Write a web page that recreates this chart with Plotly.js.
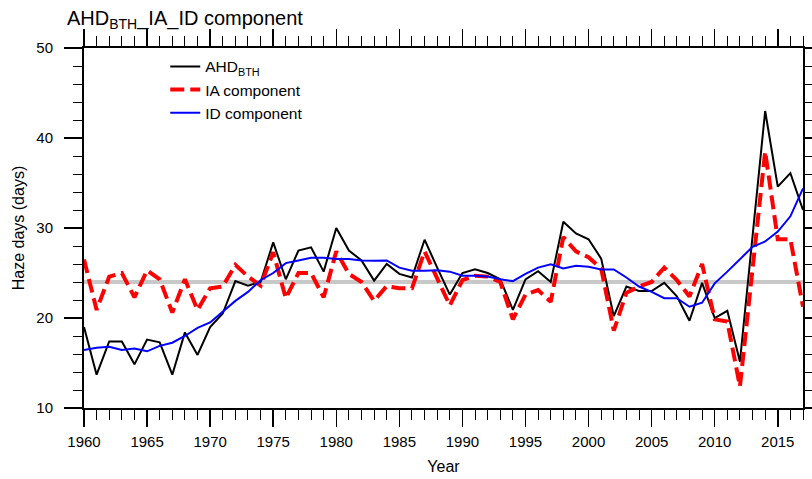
<!DOCTYPE html>
<html>
<head>
<meta charset="utf-8">
<script src="https://cdn.plot.ly/plotly-3.0.1.min.js"></script>
<style>html,body{margin:0;padding:0;background:#fff;}#chart{width:812px;height:479px;}</style>
</head>
<body>
<div id="chart"></div>
<script>
const years = [];
for (let y = 1960; y <= 2017; y++) years.push(y);

const ahdBTH = [19.0, 13.7, 17.4, 17.4, 14.85, 17.6, 17.3, 13.7, 18.4, 15.9,
  19.0, 20.5, 24.1, 23.6, 24.0, 28.4, 24.3, 27.5, 27.85, 25.15,
  30.0, 27.5, 26.4, 24.15, 26.0, 24.9, 24.5, 28.7, 25.6, 22.6,
  25.0, 25.4, 25.0, 24.3, 20.9, 24.3, 25.2, 24.0, 30.7, 29.4,
  28.75, 26.6, 20.2, 23.5, 23.0, 23.0, 23.9, 22.4, 19.7, 23.9,
  20.0, 20.8, 15.15, 29.0, 43.0, 34.6, 36.1, 32.0];

const iaComponent = [26.5, 20.9, 24.6, 25.0, 22.3, 25.3, 24.3, 20.6, 24.3, 20.9,
  23.3, 23.5, 25.9, 24.6, 23.6, 27.3, 22.2, 25.0, 25.0, 22.3,
  27.4, 24.9, 24.0, 21.9, 23.55, 23.3, 23.3, 27.4, 24.4, 21.4,
  24.2, 24.7, 24.6, 24.0, 19.85, 22.6, 23.1, 21.8, 29.0, 27.4,
  26.75, 25.5, 18.6, 22.8, 23.5, 24.0, 25.6, 24.2, 22.4, 26.0,
  19.85, 19.6, 12.4, 25.5, 38.5, 28.75, 28.75, 21.25];

const idComponent = [16.45, 16.7, 16.8, 16.45, 16.6, 16.3, 16.9, 17.25, 18.0, 18.9,
  19.5, 20.7, 21.9, 22.9, 24.2, 25.0, 26.1, 26.4, 26.7, 26.7,
  26.55, 26.55, 26.4, 26.35, 26.4, 25.6, 25.25, 25.25, 25.3, 25.15,
  24.7, 24.7, 24.6, 24.3, 24.1, 24.9, 25.6, 25.97, 25.5, 25.8,
  25.7, 25.4, 25.4, 24.5, 23.5, 22.9, 22.2, 22.2, 21.25, 21.7,
  23.85, 25.15, 26.5, 27.9, 28.5, 29.6, 31.3, 34.4];

const meanLevel = 24;
const seriesNames = ['AHD<sub>BTH</sub>', 'IA component', 'ID component'];

const FONT = 'Liberation Sans, Arial, Helvetica, sans-serif';

const traces = [
  {x: years, y: ahdBTH, name: seriesNames[0], type: 'scatter', mode: 'lines',
   line: {color: '#000000', width: 2}, legendgroup: 'a'},
  {x: years, y: iaComponent, name: seriesNames[1], type: 'scatter', mode: 'lines',
   line: {color: '#ff0000', width: 4, dash: '14px,6px'}, legendgroup: 'b'},
  {x: years, y: idComponent, name: seriesNames[2], type: 'scatter', mode: 'lines',
   line: {color: '#0000ff', width: 2}, legendgroup: 'c'}
];

const layout = {
  width: 812, height: 479,
  margin: {l: 84, r: 9, t: 48, b: 71, pad: 0},
  paper_bgcolor: '#ffffff', plot_bgcolor: '#ffffff',
  font: {family: FONT, color: '#000000', size: 15},
  title: {text: 'AHD<sub>BTH</sub>_IA_ID component', font: {family: FONT, size: 20, color: '#000'},
          xref: 'container', yref: 'container', x: 67/812, xanchor: 'left', y: 1 - 18/479, yanchor: 'middle'},
  showlegend: true,
  legend: {x: 0.113, y: 0.995, xanchor: 'left', yanchor: 'top', bgcolor: 'rgba(0,0,0,0)',
           font: {family: FONT, size: 15.5, color: '#000'}, traceorder: 'grouped', tracegroupgap: 0},
  xaxis: {
    range: [1960, 2017], tick0: 1960, dtick: 5, showgrid: false, zeroline: false,
    showline: true, linecolor: '#000', linewidth: 2, mirror: 'allticks',
    ticks: 'outside', ticklen: 17, tickwidth: 1.5, tickcolor: '#000',
    ticklabelstandoff: 2,
    minor: {dtick: 1, ticks: 'outside', ticklen: 10, tickwidth: 1, tickcolor: '#000', showgrid: false},
    tickfont: {family: FONT, size: 15},
    title: {text: 'Year', font: {family: FONT, size: 16}, standoff: 12}
  },
  yaxis: {
    range: [10, 50], tick0: 10, dtick: 10, showgrid: false, zeroline: false,
    showline: true, linecolor: '#000', linewidth: 2, mirror: 'allticks',
    ticks: 'outside', ticklen: 18, tickwidth: 1.5, tickcolor: '#000',
    ticklabelstandoff: 8,
    minor: {dtick: 2, ticks: 'outside', ticklen: 9, tickwidth: 1, tickcolor: '#000', showgrid: false},
    tickfont: {family: FONT, size: 15},
    title: {text: 'Haze days (days)', font: {family: FONT, size: 16}, standoff: 8}
  },
  shapes: [
    {type: 'line', xref: 'paper', x0: 0, x1: 1, yref: 'y', y0: meanLevel, y1: meanLevel,
     line: {color: '#c8c8c8', width: 4}, layer: 'below'}
  ]
};

Plotly.newPlot('chart', traces, layout, {displayModeBar: false, staticPlot: true});
</script>
</body>
</html>
